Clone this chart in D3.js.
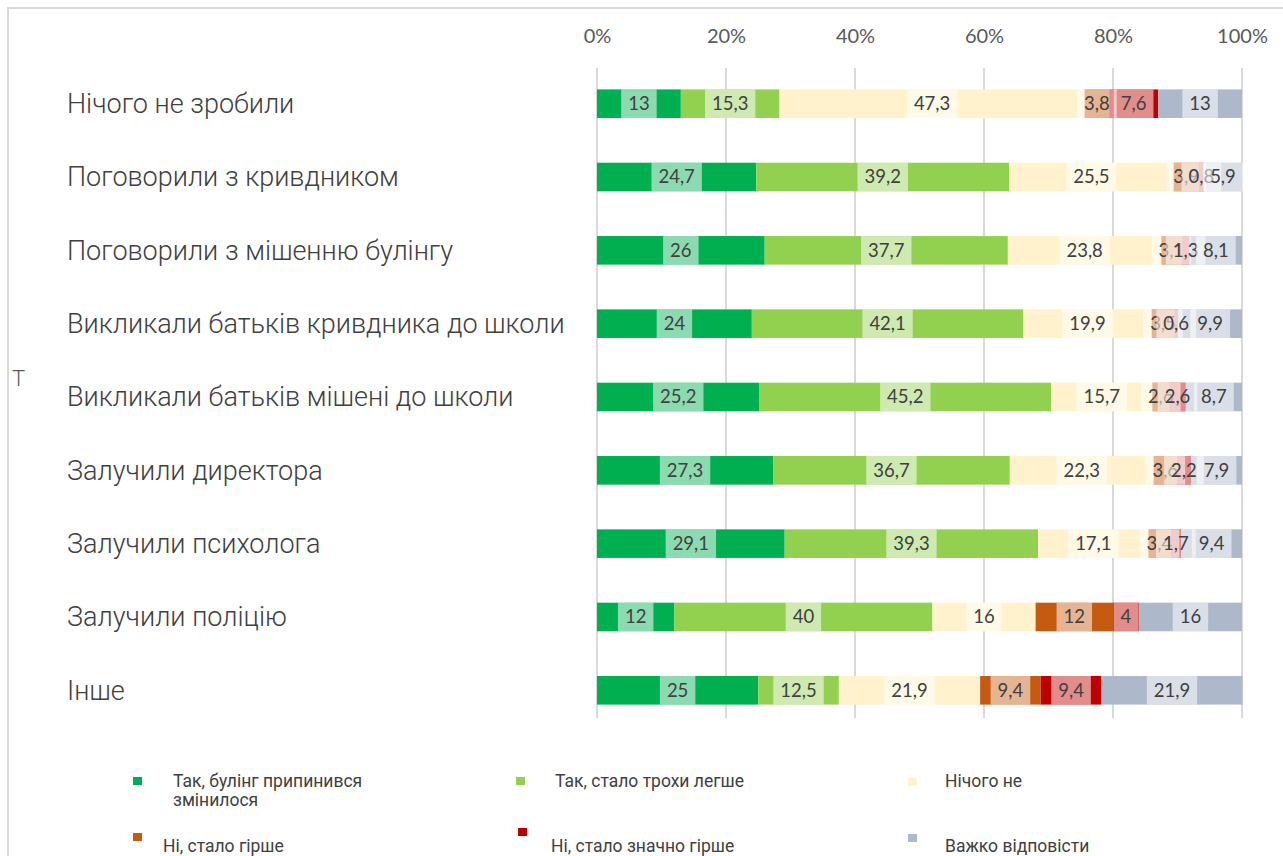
<!DOCTYPE html>
<html>
<head>
<meta charset="utf-8">
<script src="https://cdn.jsdelivr.net/npm/d3@7"></script>
<style>
  body { margin: 0; background: #fff; }
  svg { display: block; }
</style>
</head>
<body>
<div id="chart"></div>
<script>
'use strict';

// categories (top to bottom)
const categories = [
  "Нічого не зробили",
  "Поговорили з кривдником",
  "Поговорили з мішенню булінгу",
  "Викликали батьків кривдника до школи",
  "Викликали батьків мішені до школи",
  "Залучили директора",
  "Залучили психолога",
  "Залучили поліцію",
  "Інше"
];

const seriesNames = [
  "Так, булінг припинився",
  "Так, стало трохи легше",
  "Нічого не змінилося",
  "Ні, стало гірше",
  "Ні, стало значно гірше",
  "Важко відповісти"
];

// one array per series, same order as categories
const stopped   = [13,   24.7, 26,   24,   25.2, 27.3, 29.1, 12,  25];
const easier    = [15.3, 39.2, 37.7, 42.1, 45.2, 36.7, 39.3, 40,  12.5];
const unchanged = [47.3, 25.5, 23.8, 19.9, 15.7, 22.3, 17.1, 16,  21.9];
const worse     = [3.8,  3.9,  3.1,  3.5,  2.6,  3.6,  3.4,  12,  9.4];
const muchWorse = [7.6,  0.8,  1.3,  0.6,  2.6,  2.2,  1.7,  4,   9.4];
const hardToSay = [13,   5.9,  8.1,  9.9,  8.7,  7.9,  9.4,  16,  21.9];

const xTicks = [0, 20, 40, 60, 80, 100];

const seriesValues = [stopped, easier, unchanged, worse, muchWorse, hardToSay];
const colors = ["#00b050", "#92d050", "#fff2cc", "#c55a11", "#c00000", "#adb9ca"];

const rows = categories.map((c, i) => {
  const r = { category: c };
  seriesNames.forEach((s, k) => { r[s] = seriesValues[k][i]; });
  return r;
});

const W = 1283, H = 856;
const svg = d3.select("#chart").append("svg")
  .attr("width", W).attr("height", H);

// frame (only top + left edge are in view)
svg.append("path")
  .attr("d", "M8,856 V8 H1283")
  .attr("fill", "none")
  .attr("stroke", "#d9d9d9")
  .attr("stroke-width", 2);

const x = d3.scaleLinear().domain([0, 100]).range([597, 1242]);
const y = d3.scaleBand().domain(categories).range([45.4, 748.6])
  .paddingInner(0.61).paddingOuter(0.6);

// gridlines
svg.append("g")
  .selectAll("line")
  .data(xTicks)
  .join("line")
  .attr("x1", d => x(d)).attr("x2", d => x(d))
  .attr("y1", 68).attr("y2", 718)
  .attr("stroke", "#d9d9d9")
  .attr("stroke-width", 2);

// top axis labels
const xAxis = d3.axisTop(x).tickValues(xTicks).tickFormat(d => d + "%").tickSize(0);
const ax = svg.append("g")
  .attr("transform", "translate(0,46)")
  .call(xAxis);
ax.select(".domain").remove();
ax.selectAll("text")
  .attr("font-family", "Lato, 'Open Sans', sans-serif")
  .attr("font-size", 20)
  .attr("fill", "#595959");

// category labels
svg.append("g")
  .selectAll("text")
  .data(categories)
  .join("text")
  .attr("x", 67)
  .attr("y", d => y(d) + y.bandwidth() / 2)
  .attr("dy", "0.35em")
  .attr("font-family", "Roboto, sans-serif")
  .attr("font-weight", 300)
  .attr("font-size", 27)
  .attr("fill", "#404040")
  .text(d => d);

// stacked bars
const stacked = d3.stack().keys(seriesNames)(rows);
const layers = svg.append("g")
  .selectAll("g")
  .data(stacked)
  .join("g")
  .attr("fill", (d, i) => colors[i]);

layers.selectAll("rect")
  .data(d => d)
  .join("rect")
  .attr("x", d => x(d[0]))
  .attr("y", d => y(d.data.category))
  .attr("width", d => x(d[1]) - x(d[0]))
  .attr("height", y.bandwidth());

// data labels with translucent white boxes
const fmt = v => String(v).replace(".", ",");
const labels = [];
stacked.forEach(layer => {
  layer.forEach(d => {
    labels.push({
      cx: (x(d[0]) + x(d[1])) / 2,
      y: y(d.data.category),
      text: fmt(d.data[layer.key])
    });
  });
});

const lg = svg.append("g")
  .selectAll("g")
  .data(labels)
  .join("g");

lg.append("text")
  .attr("x", d => d.cx)
  .attr("y", d => d.y + y.bandwidth() / 2)
  .attr("dy", "0.35em")
  .attr("text-anchor", "middle")
  .attr("font-family", "Lato, 'Open Sans', sans-serif")
  .attr("font-size", 18.5)
  .attr("fill", "#404040")
  .text(d => d.text)
  .each(function (d) { d.w = this.getComputedTextLength(); });

lg.insert("rect", "text")
  .attr("x", d => d.cx - d.w / 2 - 7)
  .attr("y", d => d.y)
  .attr("width", d => d.w + 14)
  .attr("height", y.bandwidth())
  .attr("fill", "#fff")
  .attr("fill-opacity", 0.55);

// stray axis title fragment
svg.append("text")
  .attr("x", 12).attr("y", 386)
  .attr("font-family", "Roboto, sans-serif")
  .attr("font-weight", 300)
  .attr("font-size", 22)
  .attr("fill", "#595959")
  .text("Т");

// legend
const legendPos = [
  { mx: 133, my: 777, tx: 173, ty: 787 },
  { mx: 516, my: 777, tx: 555, ty: 787 },
  { mx: 908, my: 778, tx: 945, ty: 787 },
  { mx: 133, my: 833, tx: 163, ty: 852 },
  { mx: 518, my: 828, tx: 551, ty: 852 },
  { mx: 908, my: 834, tx: 945, ty: 852 }
];
const legendText = [
  ["Так, булінг припинився", "змінилося"],
  ["Так, стало трохи легше"],
  ["Нічого не"],
  ["Ні, стало гірше"],
  ["Ні, стало значно гірше"],
  ["Важко відповісти"]
];

const leg = svg.append("g")
  .selectAll("g")
  .data(seriesNames)
  .join("g");

leg.append("rect")
  .attr("x", (d, i) => legendPos[i].mx)
  .attr("y", (d, i) => legendPos[i].my)
  .attr("width", 9).attr("height", 8)
  .attr("fill", (d, i) => colors[i]);

leg.each(function (d, i) {
  d3.select(this).selectAll("text")
    .data(legendText[i])
    .join("text")
    .attr("x", legendPos[i].tx)
    .attr("y", (t, j) => legendPos[i].ty + j * 19)
    .attr("font-family", "Roboto, sans-serif")
    .attr("font-size", 17.5)
    .attr("fill", "#404040")
    .text(t => t);
});
</script>
</body>
</html>
